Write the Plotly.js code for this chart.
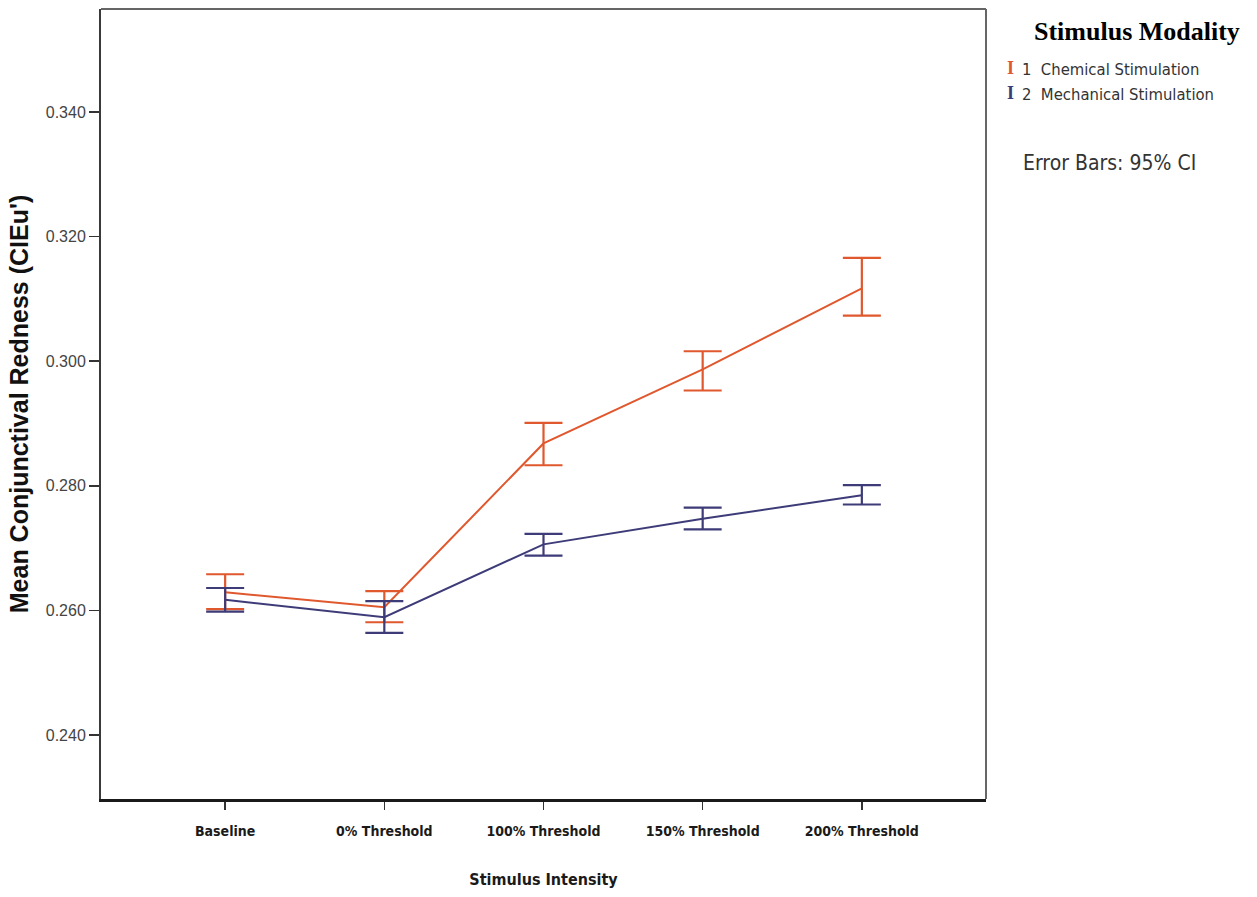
<!DOCTYPE html>
<html>
<head>
<meta charset="utf-8">
<script src="https://cdn.plot.ly/plotly-2.35.2.min.js"></script>
<style>
  html, body { margin: 0; padding: 0; background: #ffffff; }
  #chart { width: 1257px; height: 897px; }
</style>
</head>
<body>
<div id="chart"></div>
<script>
// Stimulus intensity levels on the x axis
const intensities = ['Baseline', '0% Threshold', '100% Threshold', '150% Threshold', '200% Threshold'];

// Chemical stimulation: mean redness with 95% CI bounds
const chemicalMean  = [0.2629, 0.2605, 0.2868, 0.2987, 0.3117];
const chemicalUpper = [0.2658, 0.2631, 0.2901, 0.3016, 0.3166];
const chemicalLower = [0.2602, 0.2581, 0.2833, 0.2953, 0.3073];

// Mechanical stimulation: mean redness with 95% CI bounds
const mechanicalMean  = [0.2617, 0.2589, 0.2706, 0.2747, 0.2785];
const mechanicalUpper = [0.2636, 0.2615, 0.2723, 0.2765, 0.2801];
const mechanicalLower = [0.2598, 0.2564, 0.2688, 0.2730, 0.2770];

const seriesNames = ['1  Chemical Stimulation', '2  Mechanical Stimulation'];
const yTicks = [0.240, 0.260, 0.280, 0.300, 0.320, 0.340];

const orange = '#e0582e';
const navy = '#3e3c78';
const narrow = 'DejaVu Sans Condensed, Liberation Sans Narrow, Liberation Sans, Arial';

function ciTrace(name, mean, upper, lower, color) {
  return {
    type: 'scatter',
    mode: 'lines',
    name: name,
    x: intensities,
    y: mean,
    line: { color: color, width: 2 },
    error_y: {
      type: 'data',
      symmetric: false,
      array: upper.map((u, i) => u - mean[i]),
      arrayminus: lower.map((l, i) => mean[i] - l),
      color: color,
      thickness: 2.2,
      width: 19
    },
    hoverinfo: 'x+y'
  };
}

const data = [
  ciTrace(seriesNames[0], chemicalMean, chemicalUpper, chemicalLower, orange),
  ciTrace(seriesNames[1], mechanicalMean, mechanicalUpper, mechanicalLower, navy)
];

const layout = {
  width: 1257,
  height: 897,
  margin: { l: 101, r: 271, t: 9, b: 98 },
  paper_bgcolor: '#ffffff',
  plot_bgcolor: '#ffffff',
  showlegend: false,
  xaxis: {
    type: 'category',
    range: [-0.78, 4.78],
    showgrid: false,
    zeroline: false,
    showline: true,
    linecolor: '#1a1a1a',
    linewidth: 3,
    ticks: 'outside',
    ticklen: 8,
    tickwidth: 1.5,
    tickcolor: '#333333',
    ticklabelstandoff: 9,
    tickfont: { family: narrow, size: 14, color: '#1a1a1a', weight: 'bold' },
    title: {
      text: '<b>Stimulus Intensity</b>',
      font: { family: narrow, size: 16, color: '#1a1a1a' },
      standoff: 37
    }
  },
  yaxis: {
    range: [0.22973, 0.35653],
    tickvals: yTicks,
    ticktext: yTicks.map(v => v.toFixed(3)),
    showgrid: false,
    zeroline: false,
    showline: true,
    linecolor: '#3a3a3a',
    linewidth: 2,
    ticks: 'outside',
    ticklen: 10,
    tickwidth: 1.5,
    tickcolor: '#333333',
    tickfont: { family: 'Liberation Sans, Arial', size: 16, color: '#444444' },
    title: {
      text: "<b>Mean Conjunctival Redness (CIEu')</b>",
      font: { family: 'Liberation Sans, Arial', size: 25, color: '#111111' },
      standoff: 10
    }
  },
  shapes: [
    // frame around the plotting area
    { type: 'line', xref: 'paper', yref: 'paper', x0: 0, x1: 1, y0: 1, y1: 1, line: { color: '#666666', width: 2 } },
    { type: 'line', xref: 'paper', yref: 'paper', x0: 1, x1: 1, y0: 0, y1: 1, line: { color: '#666666', width: 2 } }
  ],
  annotations: [
    {
      xref: 'paper', yref: 'paper', x: 1.289, y: 0.971, xanchor: 'right', yanchor: 'middle',
      text: '<b>Stimulus Modality</b>', showarrow: false,
      font: { family: 'Liberation Serif, Times New Roman, serif', size: 26, color: '#000000' }
    },
    {
      xref: 'paper', yref: 'paper', x: 1.021, y: 0.925, xanchor: 'left', yanchor: 'middle',
      text: '<b>I</b>', showarrow: false,
      font: { family: 'Liberation Serif, serif', size: 18, color: orange }
    },
    {
      xref: 'paper', yref: 'paper', x: 1.021, y: 0.894, xanchor: 'left', yanchor: 'middle',
      text: '<b>I</b>', showarrow: false,
      font: { family: 'Liberation Serif, serif', size: 18, color: navy }
    },
    {
      xref: 'paper', yref: 'paper', x: 1.038, y: 0.923, xanchor: 'left', yanchor: 'middle',
      text: seriesNames[0], showarrow: false,
      font: { family: narrow, size: 16.5, color: '#333333' }
    },
    {
      xref: 'paper', yref: 'paper', x: 1.038, y: 0.892, xanchor: 'left', yanchor: 'middle',
      text: seriesNames[1], showarrow: false,
      font: { family: narrow, size: 16.5, color: '#333333' }
    },
    {
      xref: 'paper', yref: 'paper', x: 1.040, y: 0.805, xanchor: 'left', yanchor: 'middle',
      text: 'Error Bars: 95% CI', showarrow: false,
      font: { family: narrow, size: 21, color: '#333333' }
    }
  ]
};

Plotly.newPlot('chart', data, layout, { displayModeBar: false, staticPlot: true });
</script>
</body>
</html>
